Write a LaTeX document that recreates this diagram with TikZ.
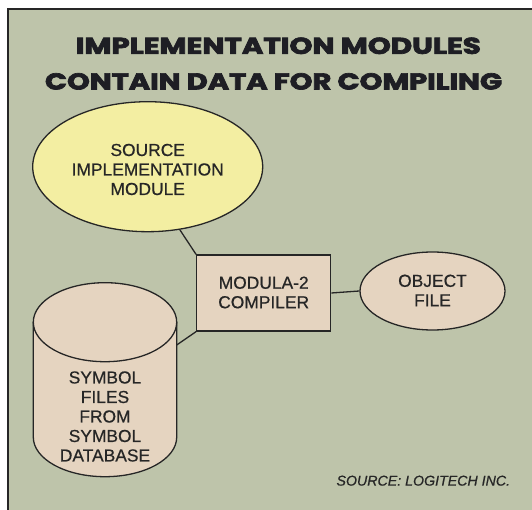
\documentclass[tikz,border=0pt]{standalone}
\usepackage{fontspec}
\setmainfont{Liberation Sans}[FakeBold=0.6]
\newfontfamily\titlefont{Poppins}[FakeBold=3]
\usetikzlibrary{shapes.geometric}
\definecolor{bg}{HTML}{BEC4AA}
\definecolor{ink}{HTML}{262626}
\definecolor{titleink}{HTML}{1E1E24}
\definecolor{yel}{HTML}{F3EEA2}
\definecolor{tan}{HTML}{E5D4C0}
\tikzset{
  shapeline/.style={draw=ink, line width=1.3pt},
  lbl/.style={text=ink, align=center, font=\fontsize{17.4}{19.5}\selectfont, inner sep=0pt},
  conn/.style={draw=ink, line width=1.3pt},
  ttl/.style={text=titleink, inner sep=0pt}
}
\begin{document}
\begin{tikzpicture}[x=1pt,y=-1pt]
\useasboundingbox (0,0) rectangle (532,510);
\fill[white] (0,0) rectangle (532,510);
\fill[bg] (8,9) rectangle (532,510);
\draw[ink, line width=1.2pt] (8,510) -- (8,9) -- (532,9);
% title
\node[ttl] (t1) at (278.3,45.8) {\resizebox{405pt}{16.3pt}{\titlefont\bfseries IMPLEMENTATION MODULES}};
\node[ttl] (t2) at (273.5,81.4) {\resizebox{457pt}{16.3pt}{\titlefont\bfseries CONTAIN DATA FOR COMPILING}};
% source ellipse
\node[ellipse, shapeline, fill=yel, minimum width=230pt, minimum height=130pt, inner sep=0pt] (src) at (147.7,166.7) {};
\node[lbl] (srct) at (147.7,169.5) {SOURCE\\IMPLEMENTATION\\MODULE};
% compiler box
\node[rectangle, shapeline, fill=tan, minimum width=134pt, minimum height=76pt, inner sep=0pt] (comp) at (263.7,293) {};
\node[lbl] (compt) at (263.7,292.5) {MODULA-2\\COMPILER};
% object file
\node[ellipse, shapeline, fill=tan, minimum width=145pt, minimum height=78pt, inner sep=0pt] (obj) at (432.5,291) {};
\node[lbl] (objt) at (432.5,290.5) {OBJECT\\FILE};
% cylinder
\fill[tan] (33.3,322.2) rectangle (176.7,437.2);
\fill[tan] (105,437.2) ellipse [x radius=71.7, y radius=39.5];
\draw[ink, line width=1.3pt] (33.3,322.2) -- (33.3,437.2) arc[start angle=180, end angle=0, x radius=71.7, y radius=39.5] -- (176.7,322.2);
\draw[ink, fill=tan, line width=1.3pt] (105,322.2) ellipse [x radius=71.7, y radius=39.5];
\node[lbl] (db) at (105,416.5) {SYMBOL\\FILES\\FROM\\SYMBOL\\DATABASE};
\coordinate (dbR) at (176.7,345);
% connectors
\draw[conn] (src.-63) -- (comp.north west);
\draw[conn] (dbR) -- (comp.south west);
\draw[conn] (comp.east) -- (obj.west);
% caption
\node[text=ink, inner sep=0pt, font=\fontsize{14.2}{16}\selectfont\itshape] (cap) at (423.3,480.7) {SOURCE: LOGITECH INC.};
\end{tikzpicture}
\end{document}
